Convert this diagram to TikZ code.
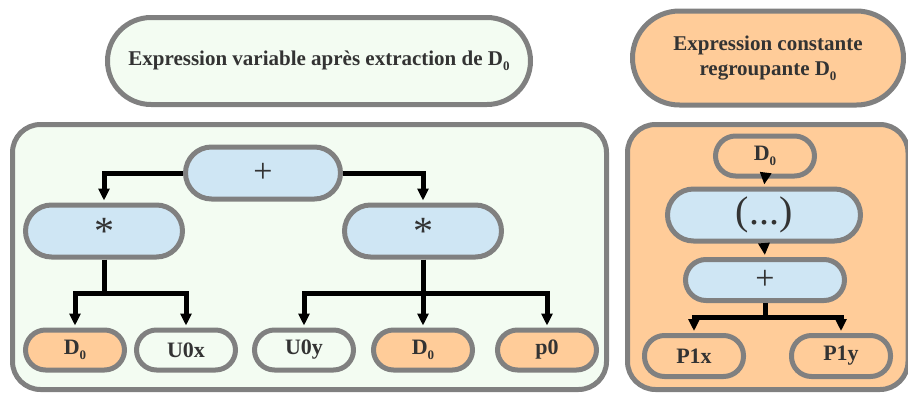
\documentclass[tikz,border=0pt]{standalone}
\usepackage{fontspec}
\setmainfont{Liberation Serif}
\usetikzlibrary{arrows.meta}
\definecolor{strokegray}{HTML}{808080}
\definecolor{mint}{HTML}{F3FCF2}
\definecolor{peach}{HTML}{FFCC99}
\definecolor{skyblue}{HTML}{CFE6F4}
\definecolor{inkgray}{HTML}{333333}
\newcommand\subz[1]{\raisebox{-5pt}{\fontsize{13}{13}\selectfont #1}}
\newcommand\asterisk{\raisebox{-7pt}{\fontsize{40}{40}\selectfont *}}
\begin{document}
\begin{tikzpicture}[x=1pt,y=-1pt,
  pill/.style={draw=strokegray,line width=5pt,inner sep=0pt,text=inkgray,align=center},
  leaf/.style={pill,minimum width=99pt,minimum height=40pt,rounded corners=20pt,font=\fontsize{22}{24}\selectfont\bfseries},
  opbox/.style={pill,fill=skyblue,minimum height=52pt,rounded corners=26pt,font=\fontsize{34}{34}\selectfont},
  panel/.style={draw=strokegray,line width=5pt,rounded corners=28pt},
  wire/.style={line width=5pt,black,line join=miter},
  arr/.style={wire,-{Triangle[width=11pt,length=12pt]},shorten >=2pt}]
\useasboundingbox (0,0) rectangle (908,394);
% panels
\draw[panel,fill=mint] (12.5,124.5) rectangle (606.5,389.5);
\draw[panel,fill=peach] (627.5,124.5) rectangle (908,389.5);
% titles
\node[pill,fill=mint,minimum width=423pt,minimum height=87pt,rounded corners=43.5pt,font=\fontsize{21}{25}\selectfont\bfseries] (titleL) at (319,61) {Expression variable après extraction de D\subz{0}};
\node[pill,fill=peach,minimum width=271pt,minimum height=94pt,rounded corners=47pt,font=\fontsize{21}{25}\selectfont\bfseries] (titleR) at (768,58) {Expression constante\\regroupante D\subz{0}};
% left tree
\node[opbox,minimum width=155pt] (plusA) at (263,173) {+};
\node[opbox,minimum width=157pt] (starL) at (104,231) {\asterisk};
\node[opbox,minimum width=157pt] (starR) at (423,231) {\asterisk};
\node[leaf,fill=peach] (d0a) at (75,350) {D\subz{0}};
\node[leaf,fill=mint] (u0x) at (186,350) {U0x};
\node[leaf,fill=mint] (u0y) at (304,350) {U0y};
\node[leaf,fill=peach] (d0b) at (423,350) {D\subz{0}};
\node[leaf,fill=peach] (p0) at (547,350) {p0};
% right tree
\node[leaf,fill=peach] (d0c) at (765,156) {D\subz{0}};
\node[opbox,minimum width=193pt,font=\fontsize{40}{40}\selectfont] (paren) at (764,215) {(...)};
\node[opbox,minimum width=159pt,minimum height=41pt,rounded corners=20.5pt] (plusB) at (765,280) {+};
\node[leaf,fill=peach,minimum height=41pt] (p1x) at (694,356) {P1x};
\node[leaf,fill=peach,minimum height=41pt] (p1y) at (841,356) {P1y};
% connectors left
\draw[arr] (plusA.west) -| (starL.north);
\draw[arr] (plusA.east) -| (starR.north);
\coordinate (jL) at (104,293);
\coordinate (jR) at (423,293);
\draw[wire] (starL.south) -- (jL);
\draw[arr] (jL) -| (d0a.north);
\draw[arr] (jL) -| (u0x.north);
\draw[arr] (starR.south) -- (d0b.north);
\draw[arr] (jR) -| (u0y.north);
\draw[arr] (jR) -| (p0.north);
% connectors right
\draw[arr] (d0c.south) -- (paren.north);
\draw[arr] (paren.south) -- (plusB.north);
\coordinate (jB) at (765,317);
\draw[wire] (plusB.south) -- (jB);
\draw[arr] (jB) -| (p1x.north);
\draw[arr] (jB) -| (p1y.north);
\end{tikzpicture}
\end{document}
